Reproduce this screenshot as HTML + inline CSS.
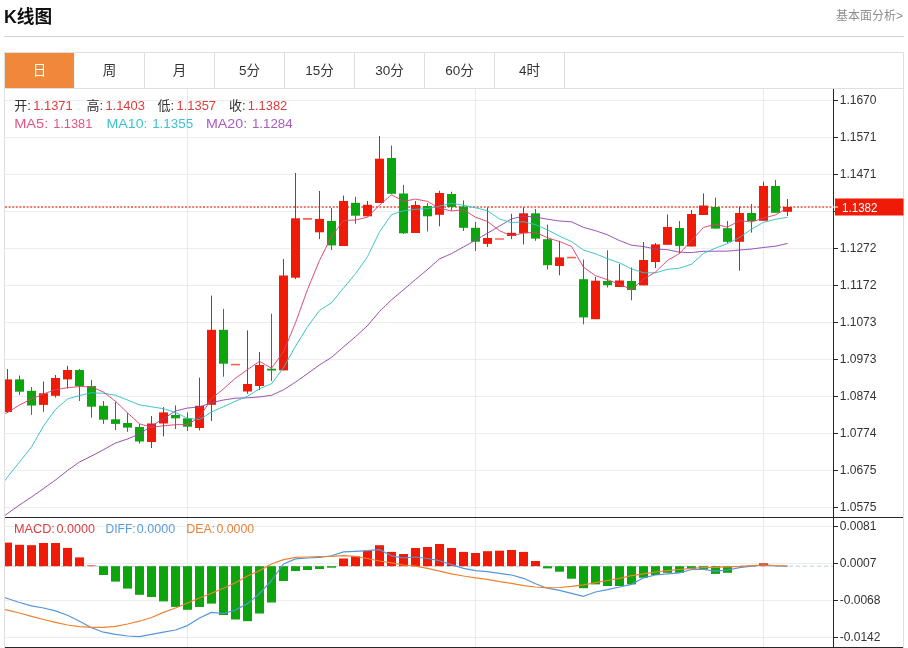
<!DOCTYPE html>
<html lang="zh-CN"><head><meta charset="utf-8"><title>K线图</title>
<style>
html,body{margin:0;padding:0;background:#fff;}
body{width:908px;height:648px;position:relative;overflow:hidden;font-family:"Liberation Sans","Noto Sans CJK SC",sans-serif;color:#333;}
.title{position:absolute;left:4px;top:4px;font-size:17.7px;font-weight:bold;color:#111;line-height:26px;letter-spacing:0;}
.more{position:absolute;right:5px;top:7px;font-size:12px;color:#8e8e8e;line-height:18px;}
.hr{position:absolute;left:4px;top:36px;width:900px;height:1px;background:#d4d4d4;}
.tabs{position:absolute;left:4px;top:52px;width:900px;height:37px;box-sizing:border-box;border:1px solid #dfdfdf;display:flex;}
.tab{box-sizing:border-box;width:70px;height:35px;border-right:1px solid #dfdfdf;text-align:center;line-height:36px;font-size:13.5px;color:#333;}
.tab.on{background:#f0883c;color:#fff;border-right-color:#f3f6fa;}
</style></head><body>
<div class="title">K线图</div>
<div class="more">基本面分析&gt;</div>
<div class="hr"></div>
<svg width="908" height="648" viewBox="0 0 908 648" style="position:absolute;left:0;top:0">
<defs><clipPath id="cm"><rect x="5" y="88" width="828.5" height="429"/></clipPath><clipPath id="cd"><rect x="5" y="518" width="828.5" height="129"/></clipPath></defs>
<g stroke="#ededed" stroke-width="1" shape-rendering="crispEdges">
<line x1="5" y1="100.5" x2="833" y2="100.5"/>
<line x1="5" y1="137.5" x2="833" y2="137.5"/>
<line x1="5" y1="174.5" x2="833" y2="174.5"/>
<line x1="5" y1="211.5" x2="833" y2="211.5"/>
<line x1="5" y1="248.5" x2="833" y2="248.5"/>
<line x1="5" y1="285.5" x2="833" y2="285.5"/>
<line x1="5" y1="322.5" x2="833" y2="322.5"/>
<line x1="5" y1="359.5" x2="833" y2="359.5"/>
<line x1="5" y1="396.5" x2="833" y2="396.5"/>
<line x1="5" y1="433.5" x2="833" y2="433.5"/>
<line x1="5" y1="470.5" x2="833" y2="470.5"/>
<line x1="5" y1="507.5" x2="833" y2="507.5"/>
<line x1="5" y1="526.5" x2="833" y2="526.5"/>
<line x1="5" y1="563.5" x2="833" y2="563.5"/>
<line x1="5" y1="600.5" x2="833" y2="600.5"/>
<line x1="5" y1="637.5" x2="833" y2="637.5"/>
</g>
<g stroke="#e6ebf2" stroke-width="1" shape-rendering="crispEdges">
<line x1="187.5" y1="89" x2="187.5" y2="647"/>
<line x1="475.5" y1="89" x2="475.5" y2="647"/>
<line x1="763.5" y1="89" x2="763.5" y2="647"/>
</g>
<g stroke="#dfdfdf" stroke-width="1" shape-rendering="crispEdges"><line x1="4.5" y1="88" x2="4.5" y2="648"/><line x1="903.5" y1="88" x2="903.5" y2="648"/></g>
<line x1="5" y1="566.2" x2="833" y2="566.2" stroke="#b9cfe6" stroke-width="1" stroke-dasharray="4,3"/>
<line x1="5" y1="207" x2="833" y2="207" stroke="#e8503e" stroke-width="1.5" stroke-dasharray="2,1.6"/>
<g clip-path="url(#cm)">
<line x1="7.5" y1="369" x2="7.5" y2="413" stroke="#c8201a" stroke-width="1"/>
<rect x="3.0" y="379.4" width="9" height="32.6" fill="#ef1b07"/>
<line x1="19.5" y1="375.5" x2="19.5" y2="395" stroke="#1f8a20" stroke-width="1"/>
<rect x="15.0" y="379.4" width="9" height="12.3" fill="#0ca50e"/>
<line x1="31.5" y1="387" x2="31.5" y2="414.9" stroke="#1f8a20" stroke-width="1"/>
<rect x="27.0" y="390.8" width="9" height="14.7" fill="#0ca50e"/>
<line x1="43.5" y1="381.5" x2="43.5" y2="411.7" stroke="#c8201a" stroke-width="1"/>
<rect x="39.0" y="393.3" width="9" height="11.6" fill="#ef1b07"/>
<line x1="55.5" y1="375" x2="55.5" y2="397.5" stroke="#c8201a" stroke-width="1"/>
<rect x="51.0" y="378.0" width="9" height="17.8" fill="#ef1b07"/>
<line x1="67.5" y1="365.8" x2="67.5" y2="388.5" stroke="#c8201a" stroke-width="1"/>
<rect x="63.0" y="370.0" width="9" height="9.4" fill="#ef1b07"/>
<line x1="79.5" y1="369" x2="79.5" y2="401" stroke="#1f8a20" stroke-width="1"/>
<rect x="75.0" y="370.0" width="9" height="16.1" fill="#0ca50e"/>
<line x1="91.5" y1="379.9" x2="91.5" y2="417.6" stroke="#1f8a20" stroke-width="1"/>
<rect x="87.0" y="386.1" width="9" height="20.6" fill="#0ca50e"/>
<line x1="103.5" y1="401" x2="103.5" y2="423.9" stroke="#1f8a20" stroke-width="1"/>
<rect x="99.0" y="405.8" width="9" height="13.9" fill="#0ca50e"/>
<line x1="115.5" y1="402" x2="115.5" y2="430" stroke="#1f8a20" stroke-width="1"/>
<rect x="111.0" y="419.3" width="9" height="4.6" fill="#0ca50e"/>
<line x1="127.5" y1="413" x2="127.5" y2="431.8" stroke="#1f8a20" stroke-width="1"/>
<rect x="123.0" y="423.0" width="9" height="4.6" fill="#0ca50e"/>
<line x1="139.5" y1="424" x2="139.5" y2="443.6" stroke="#1f8a20" stroke-width="1"/>
<rect x="135.0" y="427.0" width="9" height="14.5" fill="#0ca50e"/>
<line x1="151.5" y1="416" x2="151.5" y2="448" stroke="#c8201a" stroke-width="1"/>
<rect x="147.0" y="423.5" width="9" height="18.5" fill="#ef1b07"/>
<line x1="163.5" y1="407" x2="163.5" y2="436.4" stroke="#c8201a" stroke-width="1"/>
<rect x="159.0" y="412.4" width="9" height="11.1" fill="#ef1b07"/>
<line x1="175.5" y1="405.4" x2="175.5" y2="429" stroke="#1f8a20" stroke-width="1"/>
<rect x="171.0" y="415.0" width="9" height="3.3" fill="#0ca50e"/>
<line x1="187.5" y1="412.4" x2="187.5" y2="431" stroke="#1f8a20" stroke-width="1"/>
<rect x="183.0" y="418.3" width="9" height="8.4" fill="#0ca50e"/>
<line x1="199.5" y1="377.6" x2="199.5" y2="430.4" stroke="#c8201a" stroke-width="1"/>
<rect x="195.0" y="405.8" width="9" height="22.2" fill="#ef1b07"/>
<line x1="211.5" y1="295.6" x2="211.5" y2="421" stroke="#c8201a" stroke-width="1"/>
<rect x="207.0" y="329.8" width="9" height="75.0" fill="#ef1b07"/>
<line x1="223.5" y1="308.9" x2="223.5" y2="376.7" stroke="#1f8a20" stroke-width="1"/>
<rect x="219.0" y="329.8" width="9" height="33.9" fill="#0ca50e"/>
<line x1="231.0" y1="364.6" x2="240.0" y2="364.6" stroke="#f4635a" stroke-width="1.6"/>
<line x1="247.5" y1="330.4" x2="247.5" y2="393.7" stroke="#c8201a" stroke-width="1"/>
<rect x="243.0" y="384.0" width="9" height="7.5" fill="#ef1b07"/>
<line x1="259.5" y1="352" x2="259.5" y2="390" stroke="#c8201a" stroke-width="1"/>
<rect x="255.0" y="365.0" width="9" height="21.0" fill="#ef1b07"/>
<line x1="271.5" y1="313.7" x2="271.5" y2="381" stroke="#1f8a20" stroke-width="1"/>
<rect x="267.0" y="368.7" width="9" height="1.8" fill="#0ca50e"/>
<line x1="283.5" y1="259" x2="283.5" y2="370.4" stroke="#c8201a" stroke-width="1"/>
<rect x="279.0" y="275.5" width="9" height="94.9" fill="#ef1b07"/>
<line x1="295.5" y1="173" x2="295.5" y2="279" stroke="#c8201a" stroke-width="1"/>
<rect x="291.0" y="218.3" width="9" height="59.4" fill="#ef1b07"/>
<line x1="303.0" y1="218.9" x2="312.0" y2="218.9" stroke="#f4635a" stroke-width="1.6"/>
<line x1="319.5" y1="191" x2="319.5" y2="239" stroke="#c8201a" stroke-width="1"/>
<rect x="315.0" y="218.9" width="9" height="13.4" fill="#ef1b07"/>
<line x1="331.5" y1="208" x2="331.5" y2="250" stroke="#1f8a20" stroke-width="1"/>
<rect x="327.0" y="220.9" width="9" height="24.5" fill="#0ca50e"/>
<line x1="343.5" y1="195.6" x2="343.5" y2="246" stroke="#c8201a" stroke-width="1"/>
<rect x="339.0" y="201.0" width="9" height="45.0" fill="#ef1b07"/>
<line x1="355.5" y1="196.8" x2="355.5" y2="223.7" stroke="#1f8a20" stroke-width="1"/>
<rect x="351.0" y="202.8" width="9" height="12.9" fill="#0ca50e"/>
<line x1="367.5" y1="201" x2="367.5" y2="216.3" stroke="#c8201a" stroke-width="1"/>
<rect x="363.0" y="204.8" width="9" height="11.5" fill="#ef1b07"/>
<line x1="379.5" y1="136" x2="379.5" y2="203" stroke="#c8201a" stroke-width="1"/>
<rect x="375.0" y="158.7" width="9" height="44.3" fill="#ef1b07"/>
<line x1="391.5" y1="145.5" x2="391.5" y2="194" stroke="#1f8a20" stroke-width="1"/>
<rect x="387.0" y="158.0" width="9" height="35.8" fill="#0ca50e"/>
<line x1="403.5" y1="185" x2="403.5" y2="234" stroke="#1f8a20" stroke-width="1"/>
<rect x="399.0" y="193.5" width="9" height="39.8" fill="#0ca50e"/>
<line x1="415.5" y1="201" x2="415.5" y2="233" stroke="#c8201a" stroke-width="1"/>
<rect x="411.0" y="205.0" width="9" height="28.0" fill="#ef1b07"/>
<line x1="427.5" y1="203" x2="427.5" y2="231.5" stroke="#1f8a20" stroke-width="1"/>
<rect x="423.0" y="206.0" width="9" height="10.3" fill="#0ca50e"/>
<line x1="439.5" y1="190.7" x2="439.5" y2="226.3" stroke="#c8201a" stroke-width="1"/>
<rect x="435.0" y="193.0" width="9" height="21.8" fill="#ef1b07"/>
<line x1="451.5" y1="191.7" x2="451.5" y2="210.7" stroke="#1f8a20" stroke-width="1"/>
<rect x="447.0" y="194.0" width="9" height="13.0" fill="#0ca50e"/>
<line x1="463.5" y1="200.4" x2="463.5" y2="231" stroke="#1f8a20" stroke-width="1"/>
<rect x="459.0" y="206.5" width="9" height="21.3" fill="#0ca50e"/>
<line x1="475.5" y1="221.9" x2="475.5" y2="251" stroke="#1f8a20" stroke-width="1"/>
<rect x="471.0" y="227.8" width="9" height="13.9" fill="#0ca50e"/>
<line x1="487.5" y1="207.4" x2="487.5" y2="247" stroke="#c8201a" stroke-width="1"/>
<rect x="483.0" y="238.0" width="9" height="5.9" fill="#ef1b07"/>
<line x1="495.0" y1="239" x2="504.0" y2="239" stroke="#f4635a" stroke-width="1.6"/>
<line x1="511.5" y1="213.8" x2="511.5" y2="239.2" stroke="#c8201a" stroke-width="1"/>
<rect x="507.0" y="232.8" width="9" height="3.2" fill="#ef1b07"/>
<line x1="523.5" y1="207.3" x2="523.5" y2="244.4" stroke="#c8201a" stroke-width="1"/>
<rect x="519.0" y="213.3" width="9" height="19.9" fill="#ef1b07"/>
<line x1="535.5" y1="209" x2="535.5" y2="240.8" stroke="#1f8a20" stroke-width="1"/>
<rect x="531.0" y="213.3" width="9" height="25.3" fill="#0ca50e"/>
<line x1="547.5" y1="224.6" x2="547.5" y2="269.5" stroke="#1f8a20" stroke-width="1"/>
<rect x="543.0" y="239.2" width="9" height="26.0" fill="#0ca50e"/>
<line x1="559.5" y1="240.8" x2="559.5" y2="275.3" stroke="#c8201a" stroke-width="1"/>
<rect x="555.0" y="257.4" width="9" height="8.6" fill="#ef1b07"/>
<line x1="567.0" y1="257.6" x2="576.0" y2="257.6" stroke="#f4635a" stroke-width="1.6"/>
<line x1="583.5" y1="259.5" x2="583.5" y2="324.3" stroke="#1f8a20" stroke-width="1"/>
<rect x="579.0" y="279.2" width="9" height="38.2" fill="#0ca50e"/>
<line x1="595.5" y1="277" x2="595.5" y2="319.2" stroke="#c8201a" stroke-width="1"/>
<rect x="591.0" y="280.7" width="9" height="38.5" fill="#ef1b07"/>
<line x1="607.5" y1="250.3" x2="607.5" y2="287.5" stroke="#1f8a20" stroke-width="1"/>
<rect x="603.0" y="281.0" width="9" height="4.2" fill="#0ca50e"/>
<line x1="619.5" y1="264" x2="619.5" y2="287" stroke="#c8201a" stroke-width="1"/>
<rect x="615.0" y="280.5" width="9" height="6.5" fill="#ef1b07"/>
<line x1="631.5" y1="267.5" x2="631.5" y2="300.3" stroke="#1f8a20" stroke-width="1"/>
<rect x="627.0" y="281.0" width="9" height="9.0" fill="#0ca50e"/>
<line x1="643.5" y1="242" x2="643.5" y2="285.4" stroke="#c8201a" stroke-width="1"/>
<rect x="639.0" y="260.0" width="9" height="25.4" fill="#ef1b07"/>
<line x1="655.5" y1="243" x2="655.5" y2="268" stroke="#c8201a" stroke-width="1"/>
<rect x="651.0" y="244.4" width="9" height="17.6" fill="#ef1b07"/>
<line x1="667.5" y1="214.6" x2="667.5" y2="244.8" stroke="#c8201a" stroke-width="1"/>
<rect x="663.0" y="227.0" width="9" height="17.8" fill="#ef1b07"/>
<line x1="679.5" y1="221" x2="679.5" y2="253.4" stroke="#1f8a20" stroke-width="1"/>
<rect x="675.0" y="228.0" width="9" height="17.9" fill="#0ca50e"/>
<line x1="691.5" y1="210" x2="691.5" y2="246.5" stroke="#c8201a" stroke-width="1"/>
<rect x="687.0" y="214.0" width="9" height="32.5" fill="#ef1b07"/>
<line x1="703.5" y1="193.4" x2="703.5" y2="215" stroke="#c8201a" stroke-width="1"/>
<rect x="699.0" y="205.5" width="9" height="9.5" fill="#ef1b07"/>
<line x1="715.5" y1="197.7" x2="715.5" y2="228.6" stroke="#1f8a20" stroke-width="1"/>
<rect x="711.0" y="207.0" width="9" height="21.6" fill="#0ca50e"/>
<line x1="727.5" y1="221" x2="727.5" y2="243" stroke="#1f8a20" stroke-width="1"/>
<rect x="723.0" y="228.2" width="9" height="13.6" fill="#0ca50e"/>
<line x1="739.5" y1="206.5" x2="739.5" y2="270.7" stroke="#c8201a" stroke-width="1"/>
<rect x="735.0" y="213.0" width="9" height="28.8" fill="#ef1b07"/>
<line x1="751.5" y1="204" x2="751.5" y2="232.6" stroke="#1f8a20" stroke-width="1"/>
<rect x="747.0" y="213.0" width="9" height="8.0" fill="#0ca50e"/>
<line x1="763.5" y1="181.7" x2="763.5" y2="220.8" stroke="#c8201a" stroke-width="1"/>
<rect x="759.0" y="186.0" width="9" height="34.8" fill="#ef1b07"/>
<line x1="775.5" y1="180" x2="775.5" y2="212.8" stroke="#1f8a20" stroke-width="1"/>
<rect x="771.0" y="186.0" width="9" height="26.8" fill="#0ca50e"/>
<line x1="787.5" y1="199" x2="787.5" y2="216" stroke="#c8201a" stroke-width="1"/>
<rect x="783.0" y="207.0" width="9" height="4.8" fill="#ef1b07"/>
<path d="M-4.5,523.1 C-4.5,523.1 7.5,513.5 7.5,513.5 C7.5,513.5 19.5,505.0 19.5,505.0 C19.5,505.0 31.5,497.0 31.5,497.0 C31.5,497.0 43.5,488.6 43.5,488.6 C43.5,488.6 55.5,480.0 55.5,480.0 C55.5,480.0 67.5,470.5 67.5,470.5 C67.5,470.5 79.5,462.0 79.5,462.0 C79.5,462.0 91.5,456.0 91.5,456.0 C91.5,456.0 103.5,449.7 103.5,449.7 C103.5,449.7 115.5,443.0 115.5,443.0 C115.5,443.0 127.5,439.0 127.5,439.0 C127.5,439.0 139.5,434.0 139.5,434.0 C139.5,434.0 151.5,426.0 151.5,426.0 C151.5,426.0 163.5,418.6 163.5,418.6 C163.5,418.6 175.5,411.0 175.5,411.0 C175.5,411.0 187.5,408.0 187.5,408.0 C187.5,408.0 199.5,407.0 199.5,407.0 C199.5,407.0 211.5,402.6 211.5,402.6 C211.5,402.6 223.5,400.0 223.5,400.0 C223.5,400.0 235.5,398.2 235.5,398.2 C235.5,398.2 247.5,397.8 247.5,397.8 C247.5,397.8 259.5,396.9 259.5,396.9 C259.5,396.9 271.5,395.3 271.5,395.3 C271.5,395.3 283.5,389.8 283.5,389.8 C283.5,389.8 295.5,382.1 295.5,382.1 C295.5,382.1 307.5,373.6 307.5,373.6 C307.5,373.6 319.5,364.9 319.5,364.9 C319.5,364.9 331.5,357.4 331.5,357.4 C331.5,357.4 343.5,346.9 343.5,346.9 C343.5,346.9 355.5,336.7 355.5,336.7 C355.5,336.7 367.5,325.6 367.5,325.6 C367.5,325.6 379.5,311.5 379.5,311.5 C379.5,311.5 391.5,299.8 391.5,299.8 C391.5,299.8 403.5,289.8 403.5,289.8 C403.5,289.8 415.5,279.5 415.5,279.5 C415.5,279.5 427.5,269.5 427.5,269.5 C427.5,269.5 439.5,258.9 439.5,258.9 C439.5,258.9 451.5,253.6 451.5,253.6 C451.5,253.6 463.5,246.9 463.5,246.9 C463.5,246.9 475.5,240.2 475.5,240.2 C475.5,240.2 487.5,233.2 487.5,233.2 C487.5,233.2 499.5,226.1 499.5,226.1 C499.5,226.1 511.5,218.9 511.5,218.9 C511.5,218.9 523.5,216.1 523.5,216.1 C523.5,216.1 535.5,217.1 535.5,217.1 C535.5,217.1 547.5,219.2 547.5,219.2 C547.5,219.2 559.5,221.0 559.5,221.0 C559.5,221.0 571.5,221.8 571.5,221.8 C571.5,221.8 583.5,227.4 583.5,227.4 C583.5,227.4 595.5,230.7 595.5,230.7 C595.5,230.7 607.5,234.8 607.5,234.8 C607.5,234.8 619.5,240.6 619.5,240.6 C619.5,240.6 631.5,245.2 631.5,245.2 C631.5,245.2 643.5,246.6 643.5,246.6 C643.5,246.6 655.5,249.0 655.5,249.0 C655.5,249.0 667.5,249.7 667.5,249.7 C667.5,249.7 679.5,252.2 679.5,252.2 C679.5,252.2 691.5,252.6 691.5,252.6 C691.5,252.6 703.5,251.3 703.5,251.3 C703.5,251.3 715.5,251.2 715.5,251.2 C715.5,251.2 727.5,251.1 727.5,251.1 C727.5,251.1 739.5,250.0 739.5,250.0 C739.5,250.0 751.5,249.0 751.5,249.0 C751.5,249.0 763.5,247.5 763.5,247.5 C763.5,247.5 775.5,246.2 775.5,246.2 C775.5,246.2 787.5,243.4 787.5,243.4" fill="none" stroke="#9048a8" stroke-width="1" stroke-linejoin="round"/>
<path d="M-4.5,492.8 C-4.5,492.8 7.5,477.0 7.5,477.0 C7.5,477.0 19.5,462.0 19.5,462.0 C19.5,462.0 31.5,447.0 31.5,447.0 C31.5,447.0 43.5,426.0 43.5,426.0 C43.5,426.0 55.5,409.4 55.5,409.4 C55.5,409.4 67.5,399.0 67.5,399.0 C67.5,399.0 79.5,395.5 79.5,395.5 C79.5,395.5 91.5,392.8 91.5,392.8 C91.5,392.8 103.5,393.3 103.5,393.3 C103.5,393.3 115.5,395.2 115.5,395.2 C115.5,395.2 127.5,400.0 127.5,400.0 C127.5,400.0 139.5,404.9 139.5,404.9 C139.5,404.9 151.5,406.8 151.5,406.8 C151.5,406.8 163.5,408.7 163.5,408.7 C163.5,408.7 175.5,412.5 175.5,412.5 C175.5,412.5 187.5,418.3 187.5,418.3 C187.5,418.3 199.5,419.6 199.5,419.6 C199.5,419.6 211.5,412.0 211.5,412.0 C211.5,412.0 223.5,406.7 223.5,406.7 C223.5,406.7 235.5,401.2 235.5,401.2 C235.5,401.2 247.5,396.3 247.5,396.3 C247.5,396.3 259.5,388.7 259.5,388.7 C259.5,388.7 271.5,383.8 271.5,383.8 C271.5,383.8 283.5,367.7 283.5,367.7 C283.5,367.7 295.5,346.2 295.5,346.2 C295.5,346.2 307.5,326.8 307.5,326.8 C307.5,326.8 319.5,310.5 319.5,310.5 C319.5,310.5 331.5,302.7 331.5,302.7 C331.5,302.7 343.5,288.1 343.5,288.1 C343.5,288.1 355.5,273.7 355.5,273.7 C355.5,273.7 367.5,256.7 367.5,256.7 C367.5,256.7 379.5,231.9 379.5,231.9 C379.5,231.9 391.5,214.6 391.5,214.6 C391.5,214.6 403.5,210.8 403.5,210.8 C403.5,210.8 415.5,209.3 415.5,209.3 C415.5,209.3 427.5,208.6 427.5,208.6 C427.5,208.6 439.5,206.1 439.5,206.1 C439.5,206.1 451.5,203.3 451.5,203.3 C451.5,203.3 463.5,205.3 463.5,205.3 C463.5,205.3 475.5,207.8 475.5,207.8 C475.5,207.8 487.5,210.7 487.5,210.7 C487.5,210.7 499.5,219.0 499.5,219.0 C499.5,219.0 511.5,222.7 511.5,222.7 C511.5,222.7 523.5,221.7 523.5,221.7 C523.5,221.7 535.5,224.7 535.5,224.7 C535.5,224.7 547.5,229.8 547.5,229.8 C547.5,229.8 559.5,236.2 559.5,236.2 C559.5,236.2 571.5,241.5 571.5,241.5 C571.5,241.5 583.5,250.1 583.5,250.1 C583.5,250.1 595.5,253.8 595.5,253.8 C595.5,253.8 607.5,258.7 607.5,258.7 C607.5,258.7 619.5,262.9 619.5,262.9 C619.5,262.9 631.5,268.8 631.5,268.8 C631.5,268.8 643.5,272.8 643.5,272.8 C643.5,272.8 655.5,272.8 655.5,272.8 C655.5,272.8 667.5,269.3 667.5,269.3 C667.5,269.3 679.5,268.2 679.5,268.2 C679.5,268.2 691.5,264.2 691.5,264.2 C691.5,264.2 703.5,253.4 703.5,253.4 C703.5,253.4 715.5,248.1 715.5,248.1 C715.5,248.1 727.5,243.6 727.5,243.6 C727.5,243.6 739.5,237.5 739.5,237.5 C739.5,237.5 751.5,229.1 751.5,229.1 C751.5,229.1 763.5,222.3 763.5,222.3 C763.5,222.3 775.5,219.3 775.5,219.3 C775.5,219.3 787.5,217.3 787.5,217.3" fill="none" stroke="#38bec8" stroke-width="1" stroke-linejoin="round"/>
<path d="M-4.5,417.8 C-4.5,417.8 7.5,412.5 7.5,412.5 C7.5,412.5 19.5,405.0 19.5,405.0 C19.5,405.0 31.5,399.0 31.5,399.0 C31.5,399.0 43.5,394.0 43.5,394.0 C43.5,394.0 55.5,389.6 55.5,389.6 C55.5,389.6 67.5,387.7 67.5,387.7 C67.5,387.7 79.5,386.6 79.5,386.6 C79.5,386.6 91.5,386.8 91.5,386.8 C91.5,386.8 103.5,392.1 103.5,392.1 C103.5,392.1 115.5,401.3 115.5,401.3 C115.5,401.3 127.5,412.8 127.5,412.8 C127.5,412.8 139.5,423.9 139.5,423.9 C139.5,423.9 151.5,427.2 151.5,427.2 C151.5,427.2 163.5,425.8 163.5,425.8 C163.5,425.8 175.5,424.7 175.5,424.7 C175.5,424.7 187.5,424.5 187.5,424.5 C187.5,424.5 199.5,417.3 199.5,417.3 C199.5,417.3 211.5,398.6 211.5,398.6 C211.5,398.6 223.5,388.9 223.5,388.9 C223.5,388.9 235.5,378.1 235.5,378.1 C235.5,378.1 247.5,369.6 247.5,369.6 C247.5,369.6 259.5,361.4 259.5,361.4 C259.5,361.4 271.5,368.2 271.5,368.2 C271.5,368.2 283.5,351.9 283.5,351.9 C283.5,351.9 295.5,322.7 295.5,322.7 C295.5,322.7 307.5,289.6 307.5,289.6 C307.5,289.6 319.5,260.4 319.5,260.4 C319.5,260.4 331.5,236.5 331.5,236.5 C331.5,236.5 343.5,220.5 343.5,220.5 C343.5,220.5 355.5,220.0 355.5,220.0 C355.5,220.0 367.5,217.2 367.5,217.2 C367.5,217.2 379.5,205.1 379.5,205.1 C379.5,205.1 391.5,194.8 391.5,194.8 C391.5,194.8 403.5,201.3 403.5,201.3 C403.5,201.3 415.5,199.1 415.5,199.1 C415.5,199.1 427.5,201.4 427.5,201.4 C427.5,201.4 439.5,208.3 439.5,208.3 C439.5,208.3 451.5,210.9 451.5,210.9 C451.5,210.9 463.5,209.8 463.5,209.8 C463.5,209.8 475.5,217.2 475.5,217.2 C475.5,217.2 487.5,221.5 487.5,221.5 C487.5,221.5 499.5,230.7 499.5,230.7 C499.5,230.7 511.5,235.9 511.5,235.9 C511.5,235.9 523.5,233.0 523.5,233.0 C523.5,233.0 535.5,232.3 535.5,232.3 C535.5,232.3 547.5,237.8 547.5,237.8 C547.5,237.8 559.5,241.5 559.5,241.5 C559.5,241.5 571.5,246.4 571.5,246.4 C571.5,246.4 583.5,267.2 583.5,267.2 C583.5,267.2 595.5,275.7 595.5,275.7 C595.5,275.7 607.5,279.7 607.5,279.7 C607.5,279.7 619.5,284.3 619.5,284.3 C619.5,284.3 631.5,289.6 631.5,289.6 C631.5,289.6 643.5,279.3 643.5,279.3 C643.5,279.3 655.5,272.0 655.5,272.0 C655.5,272.0 667.5,260.4 667.5,260.4 C667.5,260.4 679.5,253.5 679.5,253.5 C679.5,253.5 691.5,240.5 691.5,240.5 C691.5,240.5 703.5,227.4 703.5,227.4 C703.5,227.4 715.5,224.2 715.5,224.2 C715.5,224.2 727.5,227.2 727.5,227.2 C727.5,227.2 739.5,220.6 739.5,220.6 C739.5,220.6 751.5,222.0 751.5,222.0 C751.5,222.0 763.5,218.1 763.5,218.1 C763.5,218.1 775.5,214.9 775.5,214.9 C775.5,214.9 787.5,208.0 787.5,208.0" fill="none" stroke="#d9456f" stroke-width="1" stroke-linejoin="round"/>
</g>
<g clip-path="url(#cd)">
<rect x="3.0" y="542.6" width="9" height="23.6" fill="#ef1b07"/>
<rect x="15.0" y="544.8" width="9" height="21.4" fill="#ef1b07"/>
<rect x="27.0" y="545.2" width="9" height="21.0" fill="#ef1b07"/>
<rect x="39.0" y="543.0" width="9" height="23.2" fill="#ef1b07"/>
<rect x="51.0" y="543.0" width="9" height="23.2" fill="#ef1b07"/>
<rect x="63.0" y="547.9" width="9" height="18.3" fill="#ef1b07"/>
<rect x="75.0" y="557.4" width="9" height="8.8" fill="#ef1b07"/>
<rect x="87.0" y="565.5" width="9" height="0.7" fill="#ef1b07"/>
<rect x="99.0" y="566.2" width="9" height="8.8" fill="#0ca50e"/>
<rect x="111.0" y="566.2" width="9" height="15.4" fill="#0ca50e"/>
<rect x="123.0" y="566.2" width="9" height="22.4" fill="#0ca50e"/>
<rect x="135.0" y="566.2" width="9" height="28.6" fill="#0ca50e"/>
<rect x="147.0" y="566.2" width="9" height="30.8" fill="#0ca50e"/>
<rect x="159.0" y="566.2" width="9" height="35.2" fill="#0ca50e"/>
<rect x="171.0" y="566.2" width="9" height="40.7" fill="#0ca50e"/>
<rect x="183.0" y="566.2" width="9" height="43.6" fill="#0ca50e"/>
<rect x="195.0" y="566.2" width="9" height="40.8" fill="#0ca50e"/>
<rect x="207.0" y="566.2" width="9" height="37.4" fill="#0ca50e"/>
<rect x="219.0" y="566.2" width="9" height="48.8" fill="#0ca50e"/>
<rect x="231.0" y="566.2" width="9" height="53.3" fill="#0ca50e"/>
<rect x="243.0" y="566.2" width="9" height="55.0" fill="#0ca50e"/>
<rect x="255.0" y="566.2" width="9" height="47.3" fill="#0ca50e"/>
<rect x="267.0" y="566.2" width="9" height="36.3" fill="#0ca50e"/>
<rect x="279.0" y="566.2" width="9" height="14.8" fill="#0ca50e"/>
<rect x="291.0" y="566.2" width="9" height="4.8" fill="#0ca50e"/>
<rect x="303.0" y="566.2" width="9" height="3.8" fill="#0ca50e"/>
<rect x="315.0" y="566.2" width="9" height="2.8" fill="#0ca50e"/>
<rect x="327.0" y="566.2" width="9" height="1.5" fill="#0ca50e"/>
<rect x="339.0" y="558.5" width="9" height="7.7" fill="#ef1b07"/>
<rect x="351.0" y="556.3" width="9" height="9.9" fill="#ef1b07"/>
<rect x="363.0" y="550.7" width="9" height="15.5" fill="#ef1b07"/>
<rect x="375.0" y="545.2" width="9" height="21.0" fill="#ef1b07"/>
<rect x="387.0" y="551.9" width="9" height="14.3" fill="#ef1b07"/>
<rect x="399.0" y="554.0" width="9" height="12.2" fill="#ef1b07"/>
<rect x="411.0" y="548.0" width="9" height="18.2" fill="#ef1b07"/>
<rect x="423.0" y="547.0" width="9" height="19.2" fill="#ef1b07"/>
<rect x="435.0" y="544.0" width="9" height="22.2" fill="#ef1b07"/>
<rect x="447.0" y="548.0" width="9" height="18.2" fill="#ef1b07"/>
<rect x="459.0" y="551.9" width="9" height="14.3" fill="#ef1b07"/>
<rect x="471.0" y="553.0" width="9" height="13.2" fill="#ef1b07"/>
<rect x="483.0" y="551.2" width="9" height="15.0" fill="#ef1b07"/>
<rect x="495.0" y="550.7" width="9" height="15.5" fill="#ef1b07"/>
<rect x="507.0" y="550.0" width="9" height="16.2" fill="#ef1b07"/>
<rect x="519.0" y="551.9" width="9" height="14.3" fill="#ef1b07"/>
<rect x="531.0" y="561.0" width="9" height="5.2" fill="#ef1b07"/>
<rect x="543.0" y="566.2" width="9" height="2.2" fill="#0ca50e"/>
<rect x="555.0" y="566.2" width="9" height="5.5" fill="#0ca50e"/>
<rect x="567.0" y="566.2" width="9" height="12.5" fill="#0ca50e"/>
<rect x="579.0" y="566.2" width="9" height="22.0" fill="#0ca50e"/>
<rect x="591.0" y="566.2" width="9" height="18.2" fill="#0ca50e"/>
<rect x="603.0" y="566.2" width="9" height="19.8" fill="#0ca50e"/>
<rect x="615.0" y="566.2" width="9" height="19.8" fill="#0ca50e"/>
<rect x="627.0" y="566.2" width="9" height="18.2" fill="#0ca50e"/>
<rect x="639.0" y="566.2" width="9" height="11.6" fill="#0ca50e"/>
<rect x="651.0" y="566.2" width="9" height="8.8" fill="#0ca50e"/>
<rect x="663.0" y="566.2" width="9" height="6.6" fill="#0ca50e"/>
<rect x="675.0" y="566.2" width="9" height="6.6" fill="#0ca50e"/>
<rect x="687.0" y="566.2" width="9" height="2.8" fill="#0ca50e"/>
<rect x="699.0" y="566.2" width="9" height="3.3" fill="#0ca50e"/>
<rect x="711.0" y="566.2" width="9" height="7.7" fill="#0ca50e"/>
<rect x="723.0" y="566.2" width="9" height="6.6" fill="#0ca50e"/>
<rect x="735.0" y="566.2" width="9" height="0.8" fill="#0ca50e"/>
<rect x="747.0" y="566.2" width="9" height="0.4" fill="#0ca50e"/>
<rect x="759.0" y="563.3" width="9" height="2.9" fill="#ef1b07"/>
<path d="M-4.5,594.7 C-4.5,594.7 7.5,598.5 7.5,598.5 C7.5,598.5 19.5,602.5 19.5,602.5 C19.5,602.5 31.5,605.8 31.5,605.8 C31.5,605.8 43.5,608.0 43.5,608.0 C43.5,608.0 55.5,610.9 55.5,610.9 C55.5,610.9 67.5,615.3 67.5,615.3 C67.5,615.3 79.5,621.2 79.5,621.2 C79.5,621.2 91.5,627.8 91.5,627.8 C91.5,627.8 103.5,632.2 103.5,632.2 C103.5,632.2 115.5,634.4 115.5,634.4 C115.5,634.4 127.5,636.0 127.5,636.0 C127.5,636.0 139.5,636.7 139.5,636.7 C139.5,636.7 151.5,634.4 151.5,634.4 C151.5,634.4 163.5,632.2 163.5,632.2 C163.5,632.2 175.5,630.0 175.5,630.0 C175.5,630.0 187.5,625.6 187.5,625.6 C187.5,625.6 199.5,618.0 199.5,618.0 C199.5,618.0 211.5,612.4 211.5,612.4 C211.5,612.4 223.5,613.5 223.5,613.5 C223.5,613.5 235.5,610.0 235.5,610.0 C235.5,610.0 247.5,603.6 247.5,603.6 C247.5,603.6 259.5,593.7 259.5,593.7 C259.5,593.7 271.5,580.5 271.5,580.5 C271.5,580.5 283.5,564.0 283.5,564.0 C283.5,564.0 295.5,558.9 295.5,558.9 C295.5,558.9 307.5,558.0 307.5,558.0 C307.5,558.0 319.5,557.4 319.5,557.4 C319.5,557.4 331.5,555.8 331.5,555.8 C331.5,555.8 343.5,551.9 343.5,551.9 C343.5,551.9 355.5,551.4 355.5,551.4 C355.5,551.4 367.5,550.7 367.5,550.7 C367.5,550.7 379.5,549.6 379.5,549.6 C379.5,549.6 391.5,555.8 391.5,555.8 C391.5,555.8 403.5,558.0 403.5,558.0 C403.5,558.0 415.5,557.0 415.5,557.0 C415.5,557.0 427.5,558.5 427.5,558.5 C427.5,558.5 439.5,560.7 439.5,560.7 C439.5,560.7 451.5,564.6 451.5,564.6 C451.5,564.6 463.5,568.4 463.5,568.4 C463.5,568.4 475.5,570.6 475.5,570.6 C475.5,570.6 487.5,571.7 487.5,571.7 C487.5,571.7 499.5,573.4 499.5,573.4 C499.5,573.4 511.5,575.0 511.5,575.0 C511.5,575.0 523.5,578.3 523.5,578.3 C523.5,578.3 535.5,583.8 535.5,583.8 C535.5,583.8 547.5,588.2 547.5,588.2 C547.5,588.2 559.5,590.4 559.5,590.4 C559.5,590.4 571.5,593.3 571.5,593.3 C571.5,593.3 583.5,596.3 583.5,596.3 C583.5,596.3 595.5,592.0 595.5,592.0 C595.5,592.0 607.5,589.7 607.5,589.7 C607.5,589.7 619.5,587.0 619.5,587.0 C619.5,587.0 631.5,584.4 631.5,584.4 C631.5,584.4 643.5,577.8 643.5,577.8 C643.5,577.8 655.5,575.0 655.5,575.0 C655.5,575.0 667.5,573.9 667.5,573.9 C667.5,573.9 679.5,572.8 679.5,572.8 C679.5,572.8 691.5,569.5 691.5,569.5 C691.5,569.5 703.5,569.5 703.5,569.5 C703.5,569.5 715.5,571.2 715.5,571.2 C715.5,571.2 727.5,570.0 727.5,570.0 C727.5,570.0 739.5,567.7 739.5,567.7 C739.5,567.7 751.5,566.2 751.5,566.2 C751.5,566.2 763.5,565.0 763.5,565.0 C763.5,565.0 775.5,565.8 775.5,565.8 C775.5,565.8 787.5,566.2 787.5,566.2" fill="none" stroke="#5596dc" stroke-width="1.2" stroke-linejoin="round"/>
<path d="M-4.5,607.3 C-4.5,607.3 7.5,610.2 7.5,610.2 C7.5,610.2 19.5,613.0 19.5,613.0 C19.5,613.0 31.5,616.4 31.5,616.4 C31.5,616.4 43.5,619.5 43.5,619.5 C43.5,619.5 55.5,622.3 55.5,622.3 C55.5,622.3 67.5,625.0 67.5,625.0 C67.5,625.0 79.5,626.7 79.5,626.7 C79.5,626.7 91.5,627.4 91.5,627.4 C91.5,627.4 103.5,627.4 103.5,627.4 C103.5,627.4 115.5,626.3 115.5,626.3 C115.5,626.3 127.5,624.0 127.5,624.0 C127.5,624.0 139.5,621.2 139.5,621.2 C139.5,621.2 151.5,617.5 151.5,617.5 C151.5,617.5 163.5,612.4 163.5,612.4 C163.5,612.4 175.5,608.0 175.5,608.0 C175.5,608.0 187.5,603.0 187.5,603.0 C187.5,603.0 199.5,598.0 199.5,598.0 C199.5,598.0 211.5,593.3 211.5,593.3 C211.5,593.3 223.5,588.2 223.5,588.2 C223.5,588.2 235.5,582.7 235.5,582.7 C235.5,582.7 247.5,576.0 247.5,576.0 C247.5,576.0 259.5,570.6 259.5,570.6 C259.5,570.6 271.5,564.0 271.5,564.0 C271.5,564.0 283.5,559.6 283.5,559.6 C283.5,559.6 295.5,557.4 295.5,557.4 C295.5,557.4 307.5,557.0 307.5,557.0 C307.5,557.0 319.5,556.5 319.5,556.5 C319.5,556.5 331.5,556.3 331.5,556.3 C331.5,556.3 343.5,555.6 343.5,555.6 C343.5,555.6 355.5,556.3 355.5,556.3 C355.5,556.3 367.5,558.5 367.5,558.5 C367.5,558.5 379.5,561.0 379.5,561.0 C379.5,561.0 391.5,562.9 391.5,562.9 C391.5,562.9 403.5,565.0 403.5,565.0 C403.5,565.0 415.5,566.2 415.5,566.2 C415.5,566.2 427.5,568.4 427.5,568.4 C427.5,568.4 439.5,571.2 439.5,571.2 C439.5,571.2 451.5,573.9 451.5,573.9 C451.5,573.9 463.5,576.0 463.5,576.0 C463.5,576.0 475.5,577.8 475.5,577.8 C475.5,577.8 487.5,579.4 487.5,579.4 C487.5,579.4 499.5,581.6 499.5,581.6 C499.5,581.6 511.5,583.3 511.5,583.3 C511.5,583.3 523.5,585.6 523.5,585.6 C523.5,585.6 535.5,587.0 535.5,587.0 C535.5,587.0 547.5,587.8 547.5,587.8 C547.5,587.8 559.5,587.5 559.5,587.5 C559.5,587.5 571.5,586.4 571.5,586.4 C571.5,586.4 583.5,584.9 583.5,584.9 C583.5,584.9 595.5,582.7 595.5,582.7 C595.5,582.7 607.5,580.5 607.5,580.5 C607.5,580.5 619.5,578.3 619.5,578.3 C619.5,578.3 631.5,575.6 631.5,575.6 C631.5,575.6 643.5,573.9 643.5,573.9 C643.5,573.9 655.5,572.0 655.5,572.0 C655.5,572.0 667.5,570.6 667.5,570.6 C667.5,570.6 679.5,569.5 679.5,569.5 C679.5,569.5 691.5,568.4 691.5,568.4 C691.5,568.4 703.5,567.7 703.5,567.7 C703.5,567.7 715.5,567.3 715.5,567.3 C715.5,567.3 727.5,566.8 727.5,566.8 C727.5,566.8 739.5,566.4 739.5,566.4 C739.5,566.4 751.5,565.7 751.5,565.7 C751.5,565.7 763.5,565.0 763.5,565.0 C763.5,565.0 775.5,565.5 775.5,565.5 C775.5,565.5 787.5,566.0 787.5,566.0" fill="none" stroke="#ee8232" stroke-width="1.2" stroke-linejoin="round"/>
</g>
<g stroke="#262626" stroke-width="1" shape-rendering="crispEdges">
<line x1="833.5" y1="88" x2="833.5" y2="647"/>
<line x1="5" y1="517.5" x2="903" y2="517.5"/>
<line x1="5" y1="647.5" x2="903" y2="647.5"/>
<line x1="833" y1="100.5" x2="838" y2="100.5"/>
<line x1="833" y1="137.5" x2="838" y2="137.5"/>
<line x1="833" y1="174.5" x2="838" y2="174.5"/>
<line x1="833" y1="211.5" x2="838" y2="211.5"/>
<line x1="833" y1="248.5" x2="838" y2="248.5"/>
<line x1="833" y1="285.5" x2="838" y2="285.5"/>
<line x1="833" y1="322.5" x2="838" y2="322.5"/>
<line x1="833" y1="359.5" x2="838" y2="359.5"/>
<line x1="833" y1="396.5" x2="838" y2="396.5"/>
<line x1="833" y1="433.5" x2="838" y2="433.5"/>
<line x1="833" y1="470.5" x2="838" y2="470.5"/>
<line x1="833" y1="507.5" x2="838" y2="507.5"/>
<line x1="833" y1="526.5" x2="838" y2="526.5"/>
<line x1="833" y1="563.5" x2="838" y2="563.5"/>
<line x1="833" y1="600.5" x2="838" y2="600.5"/>
<line x1="833" y1="637.5" x2="838" y2="637.5"/>
</g>
<g font-family="Liberation Sans, sans-serif" font-size="12" fill="#333">
<text x="839.7" y="104.2" textLength="36.8" lengthAdjust="spacingAndGlyphs">1.1670</text>
<text x="839.7" y="141.2" textLength="36.8" lengthAdjust="spacingAndGlyphs">1.1571</text>
<text x="839.7" y="178.2" textLength="36.8" lengthAdjust="spacingAndGlyphs">1.1471</text>
<text x="839.7" y="252.2" textLength="36.8" lengthAdjust="spacingAndGlyphs">1.1272</text>
<text x="839.7" y="289.2" textLength="36.8" lengthAdjust="spacingAndGlyphs">1.1172</text>
<text x="839.7" y="326.2" textLength="36.8" lengthAdjust="spacingAndGlyphs">1.1073</text>
<text x="839.7" y="363.2" textLength="36.8" lengthAdjust="spacingAndGlyphs">1.0973</text>
<text x="839.7" y="400.2" textLength="36.8" lengthAdjust="spacingAndGlyphs">1.0874</text>
<text x="839.7" y="437.2" textLength="36.8" lengthAdjust="spacingAndGlyphs">1.0774</text>
<text x="839.7" y="474.2" textLength="36.8" lengthAdjust="spacingAndGlyphs">1.0675</text>
<text x="839.7" y="511.2" textLength="36.8" lengthAdjust="spacingAndGlyphs">1.0575</text>
<text x="839.7" y="530.4" textLength="36.8" lengthAdjust="spacingAndGlyphs">0.0081</text>
<text x="839.7" y="567.4" textLength="36.8" lengthAdjust="spacingAndGlyphs">0.0007</text>
<text x="839.7" y="604.4" textLength="40.8" lengthAdjust="spacingAndGlyphs">-0.0068</text>
<text x="839.7" y="641.4" textLength="40.8" lengthAdjust="spacingAndGlyphs">-0.0142</text>
</g>
<rect x="835" y="198.5" width="68.5" height="17" fill="#ef1b07"/>
<line x1="833" y1="207" x2="838" y2="207" stroke="#fff" stroke-width="1"/>
<text x="842" y="211.6" font-family="Liberation Sans, sans-serif" font-size="12" fill="#fff" textLength="35.5" lengthAdjust="spacingAndGlyphs">1.1382</text>
<g font-family="Liberation Sans, Noto Sans CJK SC, sans-serif" font-size="13">
<text x="14.3" y="110" fill="#333">开:</text>
<text x="33.2" y="110" fill="#de3b3b" textLength="39.5" lengthAdjust="spacingAndGlyphs">1.1371</text>
<text x="86.5" y="110" fill="#333">高:</text>
<text x="105.4" y="110" fill="#de3b3b" textLength="39.5" lengthAdjust="spacingAndGlyphs">1.1403</text>
<text x="157.6" y="110" fill="#333">低:</text>
<text x="176.5" y="110" fill="#de3b3b" textLength="39.5" lengthAdjust="spacingAndGlyphs">1.1357</text>
<text x="228.9" y="110" fill="#333">收:</text>
<text x="247.8" y="110" fill="#de3b3b" textLength="39.5" lengthAdjust="spacingAndGlyphs">1.1382</text>
<text x="14.2" y="128" fill="#e2557f" textLength="34.1" lengthAdjust="spacingAndGlyphs">MA5:</text>
<text x="53.2" y="128" fill="#e2557f" textLength="39.1" lengthAdjust="spacingAndGlyphs">1.1381</text>
<text x="106.5" y="128" fill="#3cc3cf" textLength="41.0" lengthAdjust="spacingAndGlyphs">MA10:</text>
<text x="152.2" y="128" fill="#3cc3cf" textLength="40.9" lengthAdjust="spacingAndGlyphs">1.1355</text>
<text x="206.0" y="128" fill="#a85cc0" textLength="41.1" lengthAdjust="spacingAndGlyphs">MA20:</text>
<text x="251.9" y="128" fill="#a85cc0" textLength="40.7" lengthAdjust="spacingAndGlyphs">1.1284</text>
<text x="14.0" y="533.2" fill="#d94040" textLength="40.9" lengthAdjust="spacingAndGlyphs">MACD:</text>
<text x="56.4" y="533.2" fill="#d94040" textLength="38.5" lengthAdjust="spacingAndGlyphs">0.0000</text>
<text x="105.5" y="533.2" fill="#5a9bdc" textLength="30.2" lengthAdjust="spacingAndGlyphs">DIFF:</text>
<text x="136.8" y="533.2" fill="#5a9bdc" textLength="38.3" lengthAdjust="spacingAndGlyphs">0.0000</text>
<text x="186.3" y="533.2" fill="#e8823c" textLength="28.9" lengthAdjust="spacingAndGlyphs">DEA:</text>
<text x="216.4" y="533.2" fill="#e8823c" textLength="37.8" lengthAdjust="spacingAndGlyphs">0.0000</text>
</g>
</svg>
<div class="tabs"><div class="tab on">日</div><div class="tab">周</div><div class="tab">月</div><div class="tab">5分</div><div class="tab">15分</div><div class="tab">30分</div><div class="tab">60分</div><div class="tab">4时</div></div>
</body></html>
